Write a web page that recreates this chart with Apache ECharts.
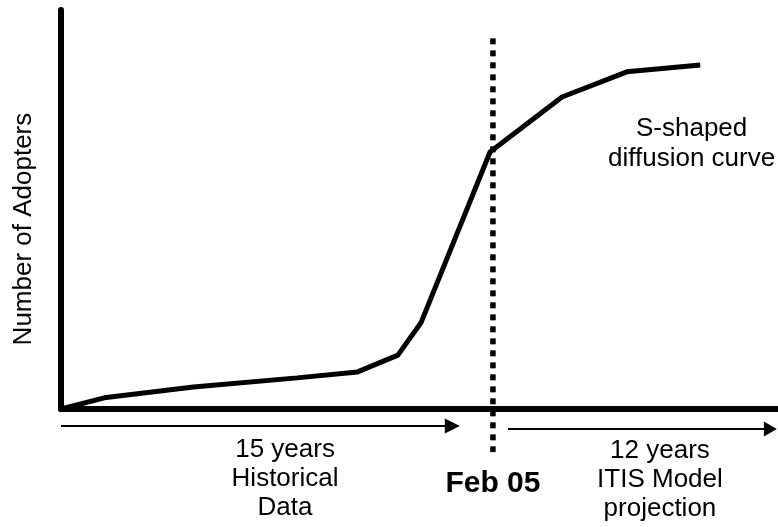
<!DOCTYPE html>
<html>
<head>
<meta charset="utf-8">
<script src="https://cdn.jsdelivr.net/npm/echarts@6/dist/echarts.min.js"></script>
<style>
  html, body { margin: 0; padding: 0; background: #fff; }
  #chart { width: 778px; height: 527px; }
</style>
</head>
<body>
<div id="chart"></div>
<script>
// curve: x in years from start, y in % of the axis height
const years = [0, 1.5, 4.6, 8.2, 10.3, 11.7, 12.5, 14.9, 17.4, 19.65, 22.2]
const adopters = [0, 2.8, 5.5, 7.8, 9.3, 13.5, 21.6, 64.4, 78.2, 84.5, 86.2]

// Feb 05 divider, drawn a bit past both ends of the plot
const splitYear = 15
const splitSpan = [92.9, -10.8]

// arrows under the axis (years)
const histSpan = [0, 13.85]
const projSpan = [15.52, 24.86]

const histLabel = ['15 years', 'Historical', 'Data']
const projLabel = ['12 years', 'ITIS Model', 'projection']
const splitLabel = 'Feb 05'
const curveLabel = ['S-shaped', 'diffusion curve']
const yTitle = 'Number of Adopters'

const FONT = '"Liberation Sans", Arial, Helvetica, sans-serif'

const chart = echarts.init(document.getElementById('chart'))

chart.setOption({
  animation: false,
  grid: { left: 61, right: 0, top: 10, bottom: 118 },
  xAxis: {
    type: 'value',
    min: 0,
    max: 24.9,
    axisLine: { lineStyle: { color: '#000', width: 6 } },
    axisTick: { show: false },
    axisLabel: { show: false },
    splitLine: { show: false }
  },
  yAxis: {
    type: 'value',
    min: 0,
    max: 100,
    axisLine: { show: true, lineStyle: { color: '#000', width: 6 } },
    axisTick: { show: false },
    axisLabel: { show: false },
    splitLine: { show: false }
  },
  series: [{
    type: 'line',
    data: years.map((x, i) => [x, adopters[i]]),
    symbol: 'none',
    lineStyle: { color: '#000', width: 5 },
    z: 3
  }, {
    type: 'line',
    data: splitSpan.map(v => [splitYear, v]),
    symbol: 'none',
    clip: false,
    lineStyle: { color: '#000', width: 5.5, type: [6, 6] },
    z: 2
  }]
})

// annotations below the axis, placed from data coordinates
const px = (x, y) => chart.convertToPixel({ gridIndex: 0 }, [x, y])
const axisY = px(0, 0)[1]

function arrow(span, dy, head) {
  const a = px(span[0], 0)[0]
  const b = px(span[1], 0)[0]
  const y = axisY + dy
  return [{
    type: 'line',
    shape: { x1: a, y1: y, x2: b - head + 1, y2: y },
    style: { stroke: '#000', lineWidth: 2 }
  }, {
    type: 'polygon',
    shape: { points: [[b, y], [b - head, y - 7.5], [b - head, y + 7.5]] },
    style: { fill: '#000' }
  }]
}

function label(lines, x, y, size, weight, lh) {
  return {
    type: 'text',
    x: x,
    y: y,
    style: {
      text: lines.join('\n'),
      fill: '#000',
      fontSize: size,
      fontWeight: weight,
      fontFamily: FONT,
      lineHeight: lh,
      align: 'center',
      verticalAlign: 'middle'
    }
  }
}

const yTitlePos = px(0, 45.1)

chart.setOption({
  graphic: [
    ...arrow(histSpan, 17, 15),
    ...arrow(projSpan, 20, 13),
    label(histLabel, px(7.78, 0)[0], axisY + 70, 26, 'normal', 29),
    label(projLabel, px(20.8, 0)[0], axisY + 71, 26, 'normal', 29),
    label([splitLabel], px(splitYear, 0)[0], axisY + 75, 30, 'bold', 34),
    label(curveLabel, px(21.9, 66.7)[0], px(21.9, 66.7)[1] + 1, 26, 'normal', 30),
    Object.assign(label([yTitle], yTitlePos[0] - 37, yTitlePos[1], 26, 'normal', 30), { rotation: Math.PI / 2 })
  ]
})

window.addEventListener('resize', () => chart.resize())
</script>
</body>
</html>
